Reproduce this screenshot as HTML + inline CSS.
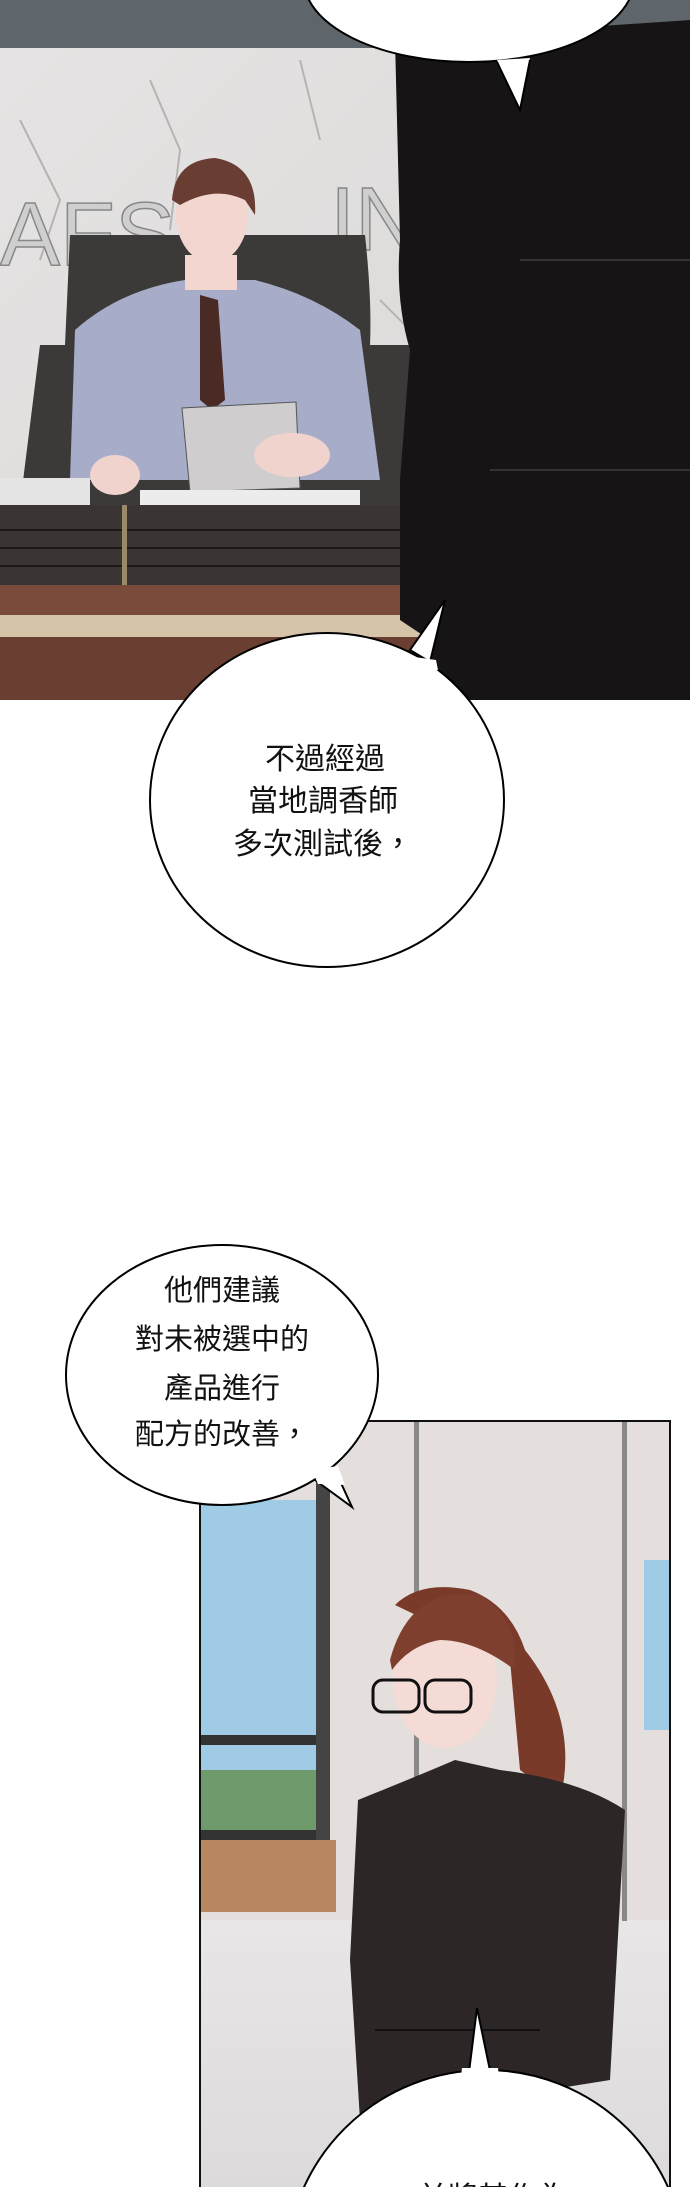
<!DOCTYPE html>
<html><head><meta charset="utf-8"><style>
html,body{margin:0;padding:0;background:#fff}
body{width:690px;height:2187px;position:relative;overflow:hidden;font-family:"Liberation Sans","Noto Sans CJK TC",sans-serif}
svg{position:absolute;left:0;top:0}
.t{font-family:"Liberation Sans","Noto Sans CJK TC",sans-serif;fill:#111;text-anchor:middle}
</style></head><body>
<svg width="690" height="2187" viewBox="0 0 690 2187">
<defs>
<linearGradient id="mw" x1="0" y1="0" x2="1" y2="1"><stop offset="0" stop-color="#e6e4e4"/><stop offset="1" stop-color="#d8d4d4"/></linearGradient>
<linearGradient id="fl" x1="0" y1="0" x2="0" y2="1"><stop offset="0" stop-color="#e8e6e6"/><stop offset="1" stop-color="#dcdada"/></linearGradient>
</defs>
<!-- Panel 1 -->
<rect x="0" y="0" width="690" height="700" fill="url(#mw)"/>
<rect x="0" y="0" width="690" height="48" fill="#5e666b"/>
<path d="M20 120 L60 200 L40 260 M150 80 L180 150 L170 230 M300 60 L320 140 M380 300 L420 340 L470 330" stroke="#b8b2b0" stroke-width="2" fill="none"/>
<text x="0" y="265" font-size="90" fill="#cfcfcf" stroke="#888" stroke-width="1.5" font-family="Liberation Sans">AFS</text>
<text x="330" y="250" font-size="90" fill="#cfcfcf" stroke="#888" stroke-width="1.5" font-family="Liberation Sans">IN</text>
<path d="M70 235 L365 235 Q372 300 370 345 L410 345 L420 505 L20 505 L40 345 L65 345 Z" fill="#3c3a39"/>
<path d="M75 330 Q120 290 185 280 L255 280 Q315 295 360 330 L380 480 L70 480 Z" fill="#a7acc8"/>
<path d="M200 295 L218 300 L225 400 L212 410 L200 400 Z" fill="#4a2a25"/>
<ellipse cx="212" cy="215" rx="36" ry="48" fill="#f2d6cf"/>
<path d="M172 200 Q175 160 215 158 Q258 165 255 215 L245 200 Q215 185 180 205 Z" fill="#6a3d33"/>
<rect x="185" y="255" width="52" height="35" fill="#f2d6cf"/>
<path d="M182 408 L296 402 L300 488 L190 492 Z" fill="#cfcdcd" stroke="#555"/>
<ellipse cx="115" cy="475" rx="25" ry="20" fill="#f1d3cd"/>
<ellipse cx="292" cy="455" rx="38" ry="22" fill="#f1d3cd"/>
<rect x="0" y="478" width="90" height="27" fill="#e4e4e4"/>
<rect x="140" y="490" width="220" height="15" fill="#ececec"/>
<rect x="0" y="505" width="420" height="80" fill="#3a3533"/>
<path d="M0 530 H420 M0 548 H420 M0 566 H420" stroke="#1d1a19" stroke-width="2"/>
<rect x="122" y="505" width="5" height="80" fill="#9b8a6a"/>
<rect x="0" y="585" width="420" height="30" fill="#7a4a3a"/>
<rect x="0" y="615" width="420" height="22" fill="#d6c4a8"/>
<rect x="0" y="637" width="420" height="63" fill="#6a3e31"/>
<path d="M395 40 L690 20 L690 700 L420 700 L430 640 L400 620 L400 480 L410 350 Q395 300 400 240 Z" fill="#161414"/>
<path d="M520 260 H690 M490 470 H690" stroke="#333" stroke-width="2"/>
<ellipse cx="469" cy="-20" rx="165" ry="82" fill="#fff" stroke="#000" stroke-width="2"/>
<path d="M497 60 L520 110 L530 58 Z" fill="#fff"/>
<path d="M497 62 L520 110 L530 60" stroke="#000" stroke-width="2" fill="none"/>
<path d="M410 650 L445 600 L430 662 Z" fill="#fff" stroke="#000" stroke-width="2"/>
<ellipse cx="327" cy="800" rx="177" ry="167" fill="#fff" stroke="#000" stroke-width="2"/>
<path d="M400 655 L436 660 L438 670 L405 668 Z" fill="#fff"/>
<text class="t" font-size="30" x="325" y="769">不過經過</text>
<text class="t" font-size="30" x="323" y="811">當地調香師</text>
<text class="t" font-size="30" x="323" y="854">多次測試後，</text>
<!-- Panel 2 -->
<rect x="200" y="1421" width="470" height="766" fill="#e4dfdc"/>
<rect x="201" y="1500" width="118" height="340" fill="#9fcbe4"/>
<rect x="201" y="1770" width="118" height="60" fill="#6e9a6c"/>
<rect x="201" y="1735" width="118" height="10" fill="#333"/>
<rect x="201" y="1830" width="118" height="10" fill="#333"/>
<rect x="316" y="1440" width="14" height="460" fill="#444"/>
<rect x="201" y="1840" width="135" height="72" fill="#b78760"/>
<rect x="201" y="1920" width="468" height="267" fill="url(#fl)"/>
<rect x="414" y="1421" width="5" height="500" fill="#888"/>
<rect x="622" y="1421" width="5" height="500" fill="#888"/>
<rect x="644" y="1560" width="25" height="170" fill="#9fcbe4"/>
<path d="M395 1605 Q420 1580 470 1590 Q510 1605 525 1650 Q580 1720 560 1800 L520 1770 L510 1660 Z" fill="#7a3a2a"/>
<ellipse cx="445" cy="1680" rx="52" ry="68" fill="#f4dbd6"/>
<path d="M390 1660 Q410 1585 480 1595 Q520 1620 515 1670 Q475 1640 440 1640 Q410 1645 392 1670 Z" fill="#7f3f2e"/>
<rect x="373" y="1680" width="46" height="32" rx="10" fill="none" stroke="#111" stroke-width="3"/>
<rect x="425" y="1680" width="46" height="32" rx="10" fill="none" stroke="#111" stroke-width="3"/>
<path d="M358 1800 Q420 1775 455 1760 L500 1770 Q580 1780 625 1810 L610 2080 L360 2120 L350 1960 Z" fill="#2c2626"/>
<path d="M375 2030 H540" stroke="#111" stroke-width="2"/>
<rect x="200" y="1421" width="470" height="770" fill="none" stroke="#111" stroke-width="2"/>
<!-- bubble 2 -->
<path d="M315 1480 L352 1507 L335 1470 Z" fill="#fff" stroke="#000" stroke-width="2"/>
<ellipse cx="222" cy="1375" rx="156" ry="130" fill="#fff" stroke="#000" stroke-width="2"/>
<path d="M312 1470 L338 1466 L345 1485 L318 1484 Z" fill="#fff"/>
<text class="t" font-size="29" x="222" y="1300">他們建議</text>
<text class="t" font-size="29" x="222" y="1349">對未被選中的</text>
<text class="t" font-size="29" x="222" y="1398">產品進行</text>
<text class="t" font-size="29" x="222" y="1444">配方的改善，</text>
<!-- bottom bubble -->
<path d="M468 2080 L477 2008 L492 2080 Z" fill="#fff" stroke="#000" stroke-width="2"/>
<ellipse cx="486" cy="2270" rx="200" ry="200" fill="#fff" stroke="#000" stroke-width="2"/>
<path d="M462 2068 L498 2068 L500 2085 L460 2085 Z" fill="#fff"/>
<text class="t" font-size="30" x="493" y="2208">並將其作為</text>
</svg>
</body></html>
